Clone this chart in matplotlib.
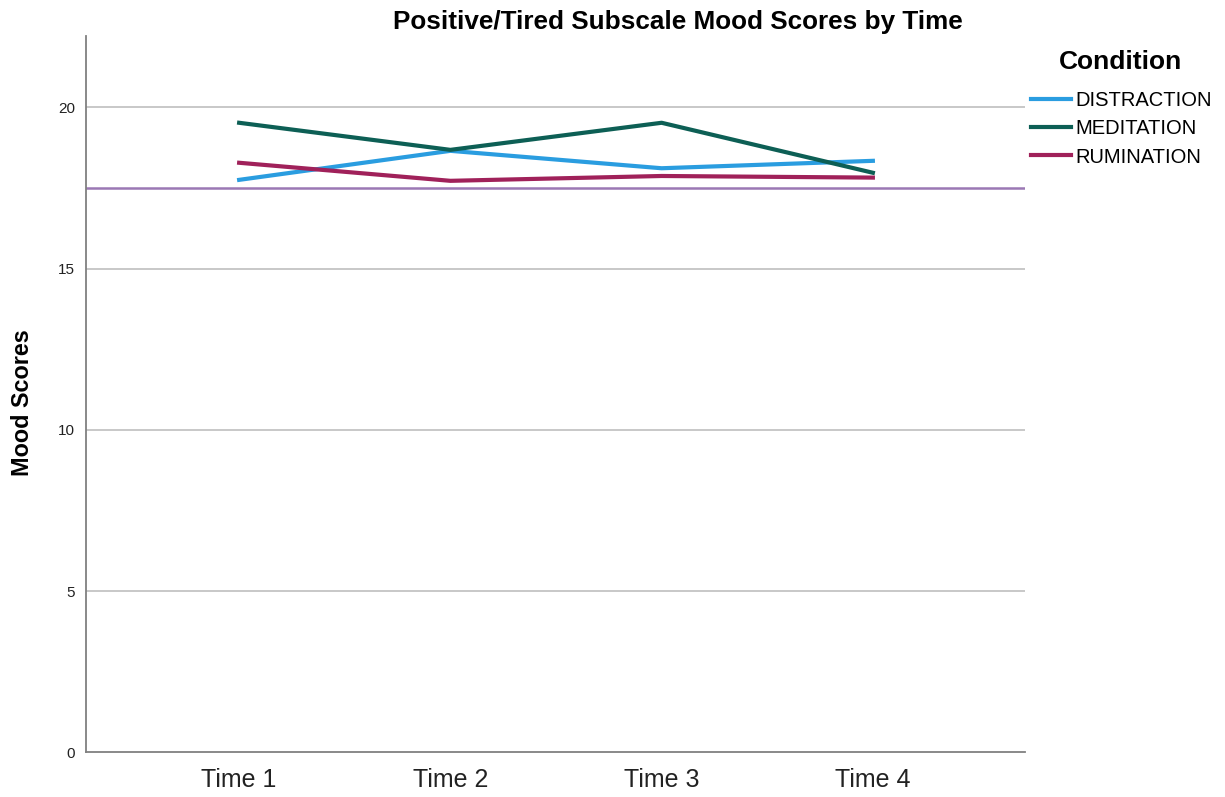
import matplotlib.pyplot as plt
import numpy as np

plt.rcParams['font.family'] = ['Liberation Sans', 'DejaVu Sans']

times = ["Time 1", "Time 2", "Time 3", "Time 4"]
distraction = [17.75, 18.65, 18.11, 18.34]
meditation = [19.52, 18.68, 19.52, 17.97]
rumination = [18.28, 17.72, 17.87, 17.82]
ref_line = 17.50
yticks = [0, 5, 10, 15, 20]

fig = plt.figure(figsize=(12.25, 7.97), dpi=100)
ax = fig.add_axes([0.0702, 0.0561, 0.7665, 0.8987])

x = np.arange(len(times))
for yt in yticks[1:]:
    ax.axhline(yt, color="#c8c8c8", lw=1.4, zorder=1)
ax.axhline(ref_line, color="#9b78b4", lw=1.8, zorder=2)

ax.plot(x, distraction, color="#2a9de0", lw=3, label="DISTRACTION", zorder=3)
ax.plot(x, meditation, color="#0d5f55", lw=3, label="MEDITATION", zorder=3)
ax.plot(x, rumination, color="#a0215a", lw=3, label="RUMINATION", zorder=3)

ax.set_xlim(-0.725, 3.72)
ax.set_ylim(0, 22.21)
ax.set_xticks(x)
ax.set_xticklabels(times, fontsize=18, color="#222222")
ax.set_yticks(yticks)
ax.set_yticklabels([str(v) for v in yticks], fontsize=11, color="#222222")
ax.tick_params(length=0, pad=8)
ax.tick_params(axis='x', pad=11)

for s in ["top", "right"]:
    ax.spines[s].set_visible(False)
for s in ["left", "bottom"]:
    ax.spines[s].set_color("#808080")
    ax.spines[s].set_linewidth(1.3)

# axis label and title placed in figure coords
fig.text(23 / 1225, 1 - 403 / 797, "Mood Scores", rotation=90, ha="center",
         va="center", fontsize=16.8, fontweight="bold")
fig.text(0.553, 0.988, "Positive/Tired Subscale Mood Scores by Time",
         ha="center", va="top", fontsize=18.8, fontweight="bold")

fig.text(1120 / 1225, 1 - 62 / 797, "Condition", ha="center", va="center",
         fontsize=19, fontweight="bold")
leg = fig.legend(loc="upper left", bbox_to_anchor=(1031 / 1225, 1 - 91 / 797),
                 frameon=False, fontsize=14.5, handlelength=2.0,
                 handletextpad=0.2, labelspacing=0.46, borderaxespad=0,
                 borderpad=0)

fig.savefig("out.png", dpi=100)
